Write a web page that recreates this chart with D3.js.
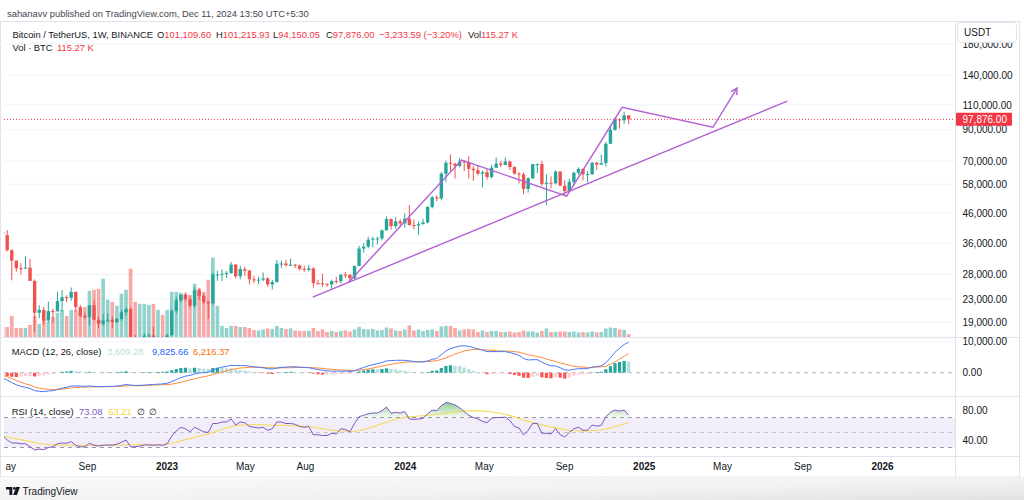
<!DOCTYPE html>
<html><head><meta charset="utf-8">
<script src="https://cdnjs.cloudflare.com/ajax/libs/d3/7.8.5/d3.min.js"></script>
<style>
body{margin:0;background:#fff;}
svg{display:block;font-family:"Liberation Sans",Arial,sans-serif;}
</style></head>
<body><svg id="c" width="1024" height="500"></svg>
<script>
// ---------- DATA (weekly BTC/USDT, Binance) ----------
const firstWeek = "2022-04-25", lastWeek = "2024-12-09";
const open = [39442,38469,34060,31305,29446,29443,29583,26575,20553,21027,19298,20836,20786,22579,23300,23175,24305,21515,20035,19831,21826,19420,18800,19311,19417,19069,19567,20627,21148,16330,16281,16456,17092,17105,16776,16837,16625,17127,20872,22707,23744,22932,21783,24631,23554,22430,22163,27975,27992,28170,28323,30305,27590,29233,28849,26914,26747,26851,27115,25840,26340,30530,30586,30171,30289,30080,29283,29050,29404,26100,26090,25869,25840,26531,26527,27970,27917,27154,29993,34502,35010,37064,37359,37450,39972,43779,41364,42991,42283,43929,41732,41580,42031,42582,48300,52137,51733,63114,68955,68393,67211,69650,69360,65662,64941,63118,63890,61484,66274,68508,67760,69648,66639,63210,62772,55850,60797,68165,68249,58161,58712,58427,64220,57301,54841,59132,63579,65602,62819,62851,68973,67962,68722,80370,89855,97900,97185,101109.6];
const high = [40797,40023,34243,31330,30657,32400,31693,26880,21868,21540,22500,21200,24276,24668,23647,25211,24446,21900,20580,21860,22800,19956,20385,20475,19950,19700,21085,21480,21473,17190,16812,17424,17424,18387,16960,16970,17397,21258,23372,23816,24255,23449,25250,25142,23880,22600,28390,28868,29184,28800,31000,30500,30036,29820,29100,27666,27500,28447,27350,26800,31431,31282,31500,31804,30440,30330,30048,30244,29688,26835,28142,26127,26880,27485,28000,28580,27987,30000,35280,35984,37972,37980,38000,40250,44700,44000,44398,43803,45879,48969,43578,42842,43882,48592,52816,52985,64000,70136,73777,68920,71769,70326,72797,67200,67232,64734,65500,67700,71979,70000,71997,70195,66985,63861,63777,61420,68366,68474,70079,62745,61800,65000,64481,59810,60660,64133,66498,66000,64478,69400,69500,73620,81500,93265,99588,98871,104088,101215.93];
const low = [37702,33713,26700,28654,28019,29282,26560,17622,19637,18626,19000,18910,20750,20706,22400,22665,20761,19800,19520,18540,19320,18125,18470,19050,18190,18950,19235,20050,15588,15815,15480,16200,16730,16528,16560,16333,16500,17125,20406,22292,22500,21351,21371,22722,21971,19549,21918,26601,26508,27200,28170,27125,26942,27666,25811,26100,25871,26505,25350,24800,26240,29500,29850,29958,29500,28861,28585,28701,25166,25777,25333,25370,24900,26008,25988,27160,26538,26984,29882,33390,34523,34800,35632,36850,39972,40222,40533,41300,40750,41500,40280,38555,41884,42258,47710,50521,50901,59005,64533,60760,66385,64493,60660,59600,62391,56552,60187,60749,66060,66600,67612,65078,62600,58402,53485,54260,60632,63456,57122,49000,56078,57787,57201,52550,54600,57493,62538,59828,58946,62451,65055,67800,66835,80216,89376,90791,94500,94150.05];
const close = [38469,34060,31305,29446,29443,29583,26575,20553,21027,19298,20836,20786,22579,23300,23175,24305,21515,20035,19831,21826,19420,18800,19311,19417,19069,19567,20627,21148,16330,16281,16456,17092,17105,16776,16837,16625,17127,20872,22707,23744,22932,21783,24631,23554,22430,22163,27975,27992,28170,28323,30305,27590,29233,28849,26914,26747,26851,27115,25840,26340,30530,30586,30171,30289,30080,29283,29050,29404,26100,26090,25869,25840,26531,26527,27970,27917,27154,29993,34502,35010,37064,37359,37450,39972,43779,41364,42991,42283,43929,41732,41580,42031,42582,48300,52137,51733,63114,68955,68393,67211,69650,69360,65662,64941,63118,63890,61484,66274,68508,67760,69648,66639,63210,62772,55850,60797,68165,68249,58161,58712,58427,64220,57301,54841,59132,63579,65602,62819,62851,68973,67962,68722,80370,89855,97900,97185,101110,97876];
// volume in thousands of BTC
const volumeK = [400,400,830,360,360,360,480,840,520,680,600,800,960,1080,840,1080,1080,960,1200,1840,1880,1920,2320,1480,1400,1240,1720,1880,2720,1400,1320,1320,1280,1320,1080,880,1080,1800,1800,1760,1720,1680,2120,1920,1800,2280,3160,1240,440,360,440,440,400,400,360,280,260,300,340,320,440,360,320,340,260,240,240,240,360,240,300,200,240,200,240,260,220,300,400,320,300,320,260,280,380,340,260,240,300,460,260,300,240,280,300,240,420,440,440,360,260,300,320,300,200,260,200,240,240,200,200,220,180,200,260,220,220,180,240,340,200,200,220,220,200,220,180,200,180,220,180,200,340,380,360,300,280,115.27];
// MACD (12, 26, close)
const macdLine = [-1700,-2400,-3200,-3900,-4400,-4700,-5100,-5800,-6000,-6100,-5900,-5800,-5400,-5000,-4700,-4300,-4300,-4300,-4400,-4300,-4400,-4500,-4500,-4400,-4400,-4300,-4100,-3800,-4000,-4100,-4100,-4000,-3900,-3800,-3700,-3600,-3400,-2900,-2200,-1600,-1100,-900,-400,-100,0,200,900,1400,1800,2000,2400,2300,2300,2300,2100,1900,1700,1600,1300,1200,1500,1700,1800,1900,1900,1800,1700,1600,1300,1000,800,600,500,500,500,500,400,600,1200,1700,2200,2600,2900,3300,3800,3900,4000,4000,4000,3800,3600,3500,3500,3800,4300,4600,5800,7000,7800,8200,8600,8700,8500,8100,7700,7300,6800,6800,6800,6800,6800,6500,6100,5600,4600,4100,4200,4200,3400,2700,2200,2200,1600,900,800,1100,1300,1300,1300,1800,2000,2200,3200,4800,6600,7900,9100,9825.66];
const signalLine = [-900,-1300,-1900,-2500,-3100,-3600,-4000,-4600,-5000,-5200,-5350,-5400,-5400,-5300,-5100,-4900,-4800,-4700,-4650,-4600,-4550,-4550,-4500,-4500,-4500,-4450,-4400,-4250,-4200,-4200,-4200,-4150,-4100,-4000,-3950,-3900,-3800,-3700,-3400,-3100,-2700,-2300,-2000,-1600,-1300,-1000,-600,-200,200,600,1000,1300,1500,1600,1700,1800,1800,1700,1600,1600,1500,1600,1600,1600,1700,1700,1700,1700,1600,1500,1400,1200,1100,1000,900,800,700,700,800,1000,1200,1500,1800,2100,2400,2700,3000,3200,3400,3500,3500,3500,3500,3600,3700,3900,4300,4800,5400,6000,6500,7000,7300,7500,7500,7400,7300,7200,7100,7000,7000,6900,6800,6600,6200,5800,5500,5200,4900,4400,4000,3600,3200,2800,2400,2100,1900,1800,1700,1700,1800,1900,2100,2700,3500,4400,5300,6216.37];
const macdHist = [-800,-1100,-1300,-1400,-1300,-1100,-1100,-1200,-1000,-900,-550,-400,0,300,400,600,500,400,250,300,150,50,0,100,100,150,300,450,200,100,100,150,200,200,250,300,400,800,1200,1500,1600,1400,1600,1500,1300,1200,1500,1600,1600,1400,1400,1000,800,700,400,100,-100,-100,-300,-400,0,100,200,300,200,100,0,-100,-300,-500,-600,-600,-600,-500,-400,-300,-300,-100,400,700,1000,1100,1100,1200,1400,1200,1000,800,600,300,100,0,0,200,600,700,1500,2200,2400,2200,2100,1700,1200,600,200,-100,-500,-400,-300,-200,-200,-400,-700,-1000,-1600,-1700,-1300,-1000,-1500,-1700,-1800,-1400,-1600,-1900,-1600,-1000,-600,-500,-400,100,200,300,1100,2100,3100,3500,3800,3609.28];
// RSI (14, close) and its moving average
const rsi = [46,40,36,36,35,35,31,26.7,28,27,30,31,35,36,35.6,37.8,33,31,31,35.6,33,32,33,33.5,33,34.5,37,40,31,31,32,33.5,33.5,33,33.5,33,35,45,52,57,55,51,57,54,51,50,62,62,64,64,68,60,64,63,58,57,56,57,53,55,64,64,62,62,61,58,57,58,47,47,46,46,49,48,55,54,51,62,71,73,75,76,76,79,84,75.6,77,76,78,68,67.6,68,69,75,80,79,86,89.8,88.9,86.7,83,78,73,70,68,65,63,69,70,70,70.5,66,58,56,46.7,53,62,62,49,49,48,55,47,44,50,55,57,53,53,60,58.5,59.5,71,77,80,78.5,80,73.08];
const rsiMA = [45,44,42.8,41.6,40.4,39.2,38,36.5,35.5,34.6,34,33.6,33.3,33.2,33.1,33.1,33,33,33,33.1,33,33,33,33.1,33.2,33.3,33.5,33.7,33.6,33.6,33.6,33.7,33.8,33.8,33.7,33.8,34.6,35.6,37,38.8,40.5,42,43.7,45.2,46.6,48,50,52,54,56,57.8,58.9,59.6,60,60.3,60.4,60.4,60.2,60,59.6,59.5,59.5,59.3,59,58.8,58.5,58.2,58,57,56,55,54,53.2,52.6,52,51.6,51.3,51.6,52.6,54,55.6,57.5,59.5,61.6,63.8,65.6,67.6,69,70.2,70.8,71.4,72,72.4,72.9,73.4,74,74.8,75.8,76.8,77.6,78.2,78.6,78.8,78.9,78.8,78.5,78,77.6,76.6,75.4,74,72.5,70.8,68.8,66.6,64.8,63.2,61.8,60.2,58.8,57.4,56.2,55,53.8,53,52.6,52.4,52.2,52.2,52.6,53,53.6,54.8,56.2,57.8,59.6,61.4,63.21];
// axis ticks (the first month label is cut by the chart's left edge in the original: only "ay" shows)
const priceTicks = [180000,140000,110000,90000,70000,58000,46000,36000,28000,23000,19000];
const macdTicks = [10000, 0];
const rsiTicks = [80, 40];
const timeTickDates = ["2022-05-01","2022-09-01","2023-01-01","2023-05-01","2023-08-01","2024-01-01","2024-05-01","2024-09-01","2025-01-01","2025-05-01","2025-09-01","2026-01-01"];
const timeTickLabels = ["ay","Sep","2023","May","Aug","2024","May","Sep","2025","May","Sep","2026"];
// drawings (date, price)
const trendLine = [["2023-08-13",23300],["2025-08-09",113400]];
const pathLine = [["2023-10-07",26300],["2024-03-28",70500],["2024-09-05",52700],["2024-11-29",107900],["2025-04-17",91800],["2025-05-24",126000]];
const lastPrice = 97876;

// ---------- LAYOUT ----------
const svg = d3.select("#c");
const P = {l:4, r:955.5, pTop:22, pBot:337.5, mTop:337.5, mBot:396.5, rTop:396.5, rBot:456.5, foot:477};
const weeks = d3.utcMonday.range(new Date(firstWeek+"T00:00:00Z"), new Date(new Date(lastWeek+"T00:00:00Z").getTime()+86400000));
const pd = s => new Date(s+"T00:00:00Z");
const x = d3.scaleUtc().domain([pd("2023-01-01"), pd("2026-01-01")]).range([166.5, 882]);
const yP = d3.scaleLog().domain([19000,140000]).range([322.5,75]);
const yV = d3.scaleLinear().domain([0,3200]).range([P.pBot-0.5, 256.6]);
const yM = d3.scaleLinear().domain([0,10000]).range([372.7,341.7]);
const yR = d3.scaleLinear().domain([40,80]).range([440,410]);
const teal="#26a69a", red="#ef5350", grid="#f0f3fa", border="#e0e3eb", txt="#131722";

const defs = svg.append("defs");
function clip(id,x0,y0,x1,y1){defs.append("clipPath").attr("id",id).append("rect").attr("x",x0).attr("y",y0).attr("width",x1-x0).attr("height",y1-y0);}
clip("cp",P.l,P.pTop,P.r,P.pBot); clip("cm",P.l,P.mTop,P.r,P.mBot); clip("cr",P.l,P.rTop,P.r,P.rBot);
const og = defs.append("linearGradient").attr("id","ob").attr("gradientUnits","userSpaceOnUse").attr("x1",0).attr("x2",0).attr("y1",yR(100)).attr("y2",yR(70));
og.append("stop").attr("offset",0).attr("stop-color","#4caf50").attr("stop-opacity",0.9);
og.append("stop").attr("offset",1).attr("stop-color","#4caf50").attr("stop-opacity",0.05);
const ug = defs.append("linearGradient").attr("id","os").attr("gradientUnits","userSpaceOnUse").attr("x1",0).attr("x2",0).attr("y1",yR(30)).attr("y2",yR(0));
ug.append("stop").attr("offset",0).attr("stop-color","#f23645").attr("stop-opacity",0.05);
ug.append("stop").attr("offset",1).attr("stop-color","#f23645").attr("stop-opacity",0.9);
const fg = defs.append("linearGradient").attr("id","fg").attr("x1",0).attr("x2",1).attr("y1",0).attr("y2",1);
fg.append("stop").attr("offset",0).attr("stop-color","#fafafa");
fg.append("stop").attr("offset",0.6).attr("stop-color","#f1f1f1");
fg.append("stop").attr("offset",1).attr("stop-color","#e2e2e2");

// header
svg.append("text").attr("x",7).attr("y",13).attr("dominant-baseline","central").attr("font-size",9.4).attr("fill","#434651")
  .text("sahanavv published on TradingView.com, Dec 11, 2024 13:50 UTC+5:30");

// frame
svg.append("rect").attr("x",0.5).attr("y",21.5).attr("width",1019).attr("height",P.foot-21.5).attr("fill","#fff").attr("stroke",border);
svg.append("rect").attr("x",0).attr("y",P.foot).attr("width",1024).attr("height",500-P.foot).attr("fill","url(#fg)");

// grid lines
const gP = svg.append("g").attr("clip-path","url(#cp)");
gP.selectAll("line.g").data(priceTicks).join("line").attr("x1",P.l).attr("x2",P.r).attr("y1",d=>yP(d)).attr("y2",d=>yP(d)).attr("stroke",grid);
svg.append("line").attr("x1",P.l).attr("x2",P.r).attr("y1",yM(10000)).attr("y2",yM(10000)).attr("stroke",grid);

// volume
const bw = 3.6;
gP.selectAll("rect.v").data(volumeK).join("rect")
  .attr("x",(d,i)=>x(weeks[i])-bw/2).attr("width",bw)
  .attr("y",d=>yV(d)).attr("height",d=>yV(0)-yV(d))
  .attr("fill",(d,i)=>close[i]>=open[i]?"rgba(38,166,154,0.5)":"rgba(239,83,80,0.5)");

// current price line
gP.append("line").attr("x1",P.l).attr("x2",P.r).attr("y1",yP(lastPrice)).attr("y2",yP(lastPrice))
  .attr("stroke","#f23645").attr("stroke-dasharray","1,2").attr("stroke-width",1);

// candles
const cg = gP.append("g");
close.forEach((c,i)=>{
  const xi = x(weeks[i]), col = c>=open[i]?teal:red;
  cg.append("line").attr("x1",xi).attr("x2",xi).attr("y1",yP(high[i])).attr("y2",yP(low[i])).attr("stroke",col).attr("stroke-width",1);
  const y0 = Math.min(yP(open[i]),yP(c)), h = Math.max(1, Math.abs(yP(open[i])-yP(c)));
  cg.append("rect").attr("x",xi-1.7).attr("width",3.4).attr("y",y0).attr("height",h).attr("fill",col);
});

// drawings
const dp = d=>[x(pd(d[0])), yP(d[1])];
const purple = "#b45fd3";
gP.append("path").attr("d",d3.line()(trendLine.map(dp))).attr("fill","none").attr("stroke",purple).attr("stroke-width",1.4);
const pts = pathLine.map(dp);
gP.append("path").attr("d",d3.line()(pts)).attr("fill","none").attr("stroke",purple).attr("stroke-width",1.4);
{
  const a = pts[pts.length-2], b = pts[pts.length-1];
  const ang = Math.atan2(b[1]-a[1], b[0]-a[0]), L = 7;
  const h1 = [b[0]-L*Math.cos(ang-0.5), b[1]-L*Math.sin(ang-0.5)];
  const h2 = [b[0]-L*Math.cos(ang+0.5), b[1]-L*Math.sin(ang+0.5)];
  gP.append("path").attr("d",d3.line()([h1,b,h2])).attr("fill","none").attr("stroke",purple).attr("stroke-width",1.4);
}

// MACD pane
const gM = svg.append("g").attr("clip-path","url(#cm)");
gM.append("line").attr("x1",P.l).attr("x2",P.r).attr("y1",yM(0)).attr("y2",yM(0)).attr("stroke","#9598a1").attr("stroke-dasharray","4,4").attr("stroke-opacity",0.7);
gM.selectAll("rect.h").data(macdHist).join("rect")
  .attr("x",(d,i)=>x(weeks[i])-1.6).attr("width",3.2)
  .attr("y",d=>Math.min(yM(d),yM(0))).attr("height",d=>Math.abs(yM(d)-yM(0)))
  .attr("fill",(d,i)=>{const p = i>0?macdHist[i-1]:d; return d>=0 ? (d>p?"#26a69a":"#b2dfdb") : (d<p?"#ff5252":"#ffcdd2");});
const lineM = d3.line().x((d,i)=>x(weeks[i])).y(d=>yM(d));
gM.append("path").attr("d",lineM(signalLine)).attr("fill","none").attr("stroke","#ff8a3d").attr("stroke-width",1);
gM.append("path").attr("d",lineM(macdLine)).attr("fill","none").attr("stroke","#4a77f6").attr("stroke-width",1);

// RSI pane
const gR = svg.append("g").attr("clip-path","url(#cr)");
gR.append("rect").attr("x",P.l).attr("width",P.r-P.l).attr("y",yR(70)).attr("height",yR(30)-yR(70)).attr("fill","rgba(126,87,194,0.1)");
[[70,0.75],[50,0.4],[30,0.75]].forEach(([v,o])=>gR.append("line").attr("x1",P.l).attr("x2",P.r).attr("y1",yR(v)).attr("y2",yR(v))
  .attr("stroke","#787b86").attr("stroke-dasharray","4,4").attr("stroke-opacity",o));
const xi = (d,i)=>x(weeks[i]);
gR.append("path").attr("d",d3.area().x(xi).y0(yR(70)).y1(d=>yR(Math.max(d,70)))(rsi)).attr("fill","url(#ob)");
gR.append("path").attr("d",d3.area().x(xi).y0(yR(30)).y1(d=>yR(Math.min(d,30)))(rsi)).attr("fill","url(#os)");
gR.append("path").attr("d",d3.line().x(xi).y(d=>yR(d))(rsiMA)).attr("fill","none").attr("stroke","#f3da5a").attr("stroke-width",1.1);
gR.append("path").attr("d",d3.line().x(xi).y(d=>yR(d))(rsi)).attr("fill","none").attr("stroke","#7e57c2").attr("stroke-width",1);

// pane separators
[P.pBot, P.mBot, P.rBot].forEach(y=>svg.append("line").attr("x1",0.5).attr("x2",1019.5).attr("y1",y).attr("y2",y).attr("stroke",border));
svg.append("line").attr("x1",P.r).attr("x2",P.r).attr("y1",21.5).attr("y2",P.foot).attr("stroke",border);

// axes
function styleAxis(g){g.select(".domain").remove(); g.selectAll("text").attr("fill",txt).attr("font-family","Liberation Sans, Arial, sans-serif");}
svg.append("g").attr("transform",`translate(${P.r},0)`).call(d3.axisRight(yP).tickValues(priceTicks).tickSize(0).tickPadding(7).tickFormat(d3.format(",.2f")))
  .attr("font-size",10).call(styleAxis);
svg.append("g").attr("transform",`translate(${P.r},0)`).call(d3.axisRight(yM).tickValues(macdTicks).tickSize(0).tickPadding(7).tickFormat(d3.format(",.2f")))
  .attr("font-size",10).call(styleAxis);
svg.append("g").attr("transform",`translate(${P.r},0)`).call(d3.axisRight(yR).tickValues(rsiTicks).tickSize(0).tickPadding(7).tickFormat(d3.format(",.2f")))
  .attr("font-size",10).call(styleAxis);
const xa = svg.append("g").attr("transform",`translate(0,${P.rBot})`)
  .call(d3.axisBottom(x).tickValues(timeTickDates.map(pd)).tickSize(0).tickPadding(6.5).tickFormat((d,i)=>timeTickLabels[i]))
  .attr("font-size",10).call(styleAxis);
xa.selectAll("text").attr("font-weight",(d,i)=>/^\d{4}$/.test(timeTickLabels[i])?"bold":"normal");
// the partially hidden first label sits flush with the left edge
xa.selectAll("text").filter((d,i)=>i===0).attr("text-anchor","start").attr("x",function(d){return 5 - x(d);});

// current price label
const yl = yP(lastPrice);
svg.append("rect").attr("x",956).attr("y",yl-6.5).attr("width",56).attr("height",13).attr("fill","#f23645").attr("rx",1);
svg.append("text").attr("x",962.5).attr("y",yl).attr("dominant-baseline","central").attr("font-size",10).attr("fill","#fff").text(d3.format(",.2f")(lastPrice));

// USDT box
svg.append("rect").attr("x",957.5).attr("y",22.5).attr("width",59).attr("height",20).attr("rx",3).attr("fill","#fff").attr("stroke",border);
svg.append("text").attr("x",964).attr("y",32.5).attr("dominant-baseline","central").attr("font-size",10).attr("fill",txt).text("USDT");

// legends
function legend(y, parts){
  parts.forEach(p=>{
    const t = svg.append("text").attr("x",p[0]).attr("y",y).attr("dominant-baseline","central").attr("font-size",9.4);
    p.slice(1).forEach(s=>t.append("tspan").attr("fill",s[1]).text(s[0]));
  });
}
const lr = "#f23645";
legend(34,[[12.5,["Bitcoin / TetherUS, 1W, BINANCE",txt]],[157,["O",txt],["101,109.60",lr]],[216,["H",txt],["101,215.93",lr]],
  [273,["L",txt],["94,150.05",lr]],[326,["C",txt],["97,876.00",lr]],[379,["−3,233.59 (−3.20%)",lr]],[468,["Vol",txt],["115.27 K",lr]]]);
legend(46.5,[[12.5,["Vol · BTC",txt]],[57,["115.27 K",lr]]]);
legend(351,[[11.7,["MACD (12, 26, close)",txt]],[107,["3,609.28","#b2dfdb"]],[152,["9,825.66","#2962ff"]],[193,["6,216.37","#ff6d00"]]]);
legend(411,[[11.7,["RSI (14, close)",txt]],[79,["73.08","#7e57c2"]],[108.3,["63.21","#f3d23a"]],[137.3,["∅",txt]],[149.3,["∅",txt]]]);

// footer logo
const lg = svg.append("g").attr("fill","#131722");
lg.append("path").attr("d","M6,487 H12.3 V495 H9.4 V489.6 H6 Z");
lg.append("circle").attr("cx",14.4).attr("cy",488.4).attr("r",1.4);
lg.append("path").attr("d","M16.2,487 H20 L16.9,495 H13.2 Z");
svg.append("text").attr("x",22.5).attr("y",491).attr("dominant-baseline","central").attr("font-size",10).attr("fill",txt).text("TradingView");
</script>
</body></html>
